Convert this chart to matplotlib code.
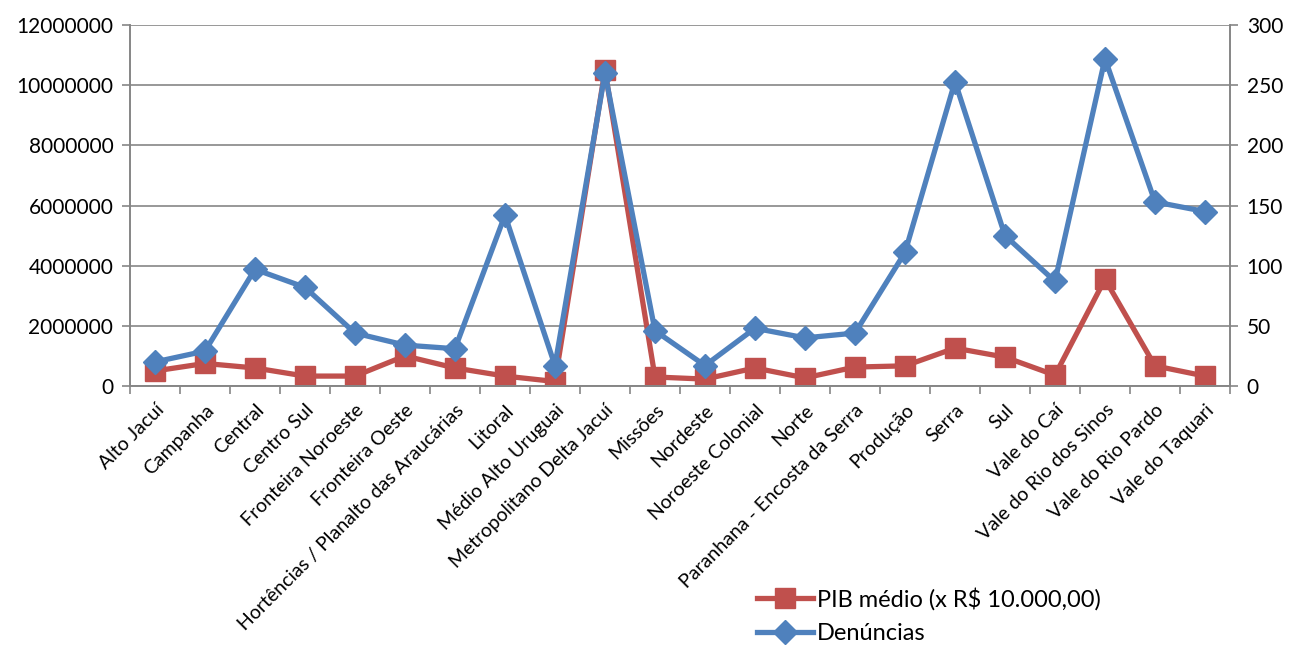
import matplotlib.pyplot as plt
from matplotlib.ticker import FixedLocator

plt.rcParams['font.family'] = ['Lato', 'DejaVu Sans']

regioes = ['Alto Jacuí', 'Campanha', 'Central', 'Centro Sul', 'Fronteira Noroeste',
           'Fronteira Oeste', 'Hortências / Planalto das Araucárias', 'Litoral',
           'Médio Alto Uruguai', 'Metropolitano Delta Jacuí', 'Missões', 'Nordeste',
           'Noroeste Colonial', 'Norte', 'Paranhana - Encosta da Serra', 'Produção',
           'Serra', 'Sul', 'Vale do Caí', 'Vale do Rio dos Sinos', 'Vale do Rio Pardo',
           'Vale do Taquari']

pib_medio = [500000, 750000, 600000, 330000, 330000, 1000000, 600000, 330000,
             150000, 10500000, 300000, 230000, 600000, 270000, 630000, 670000,
             1260000, 960000, 360000, 3550000, 670000, 330000]

denuncias = [20, 29, 97, 82, 44, 34, 31, 142, 17, 260, 46, 17, 48, 40, 44, 111,
             253, 125, 87, 272, 153, 145]

vermelho = '#C0504D'
azul = '#4F81BD'
cinza = '#868686'

fig = plt.figure(figsize=(13.02, 6.48), dpi=100)
ax = fig.add_axes([0.0998, 0.4043, 0.8449, 0.5571])
ax2 = ax.twinx()

x = list(range(len(regioes)))
l1, = ax.plot(x, pib_medio, color=vermelho, lw=3.8, marker='s', ms=14,
              label='PIB médio (x R$ 10.000,00)')
l2, = ax2.plot(x, denuncias, color=azul, lw=3.8, marker='D', ms=12,
               label='Denúncias')

ax.set_xlim(-0.5, len(regioes) - 0.5)
ax.set_ylim(0, 12000000)
ax2.set_ylim(0, 300)
ax.set_yticks(range(0, 12000001, 2000000))
ax.set_yticklabels([str(v) for v in range(0, 12000001, 2000000)])
ax2.set_yticks(range(0, 301, 50))

ax.yaxis.grid(True, color=cinza, lw=1.2)
ax.set_axisbelow(True)

ax.set_xticks(x)
ax.set_xticklabels(regioes, rotation=45, ha='right', rotation_mode='anchor', fontsize=14)
ax.xaxis.set_minor_locator(FixedLocator([i - 0.5 for i in range(len(regioes) + 1)]))
ax.tick_params(axis='x', which='major', length=0, pad=11)
ax.tick_params(axis='x', which='minor', length=6, color=cinza, width=1.2)
ax.tick_params(axis='y', length=6, color=cinza, width=1.2, labelsize=15, pad=6)
ax2.tick_params(axis='y', length=6, color=cinza, width=1.2, labelsize=15, pad=6)

for a in (ax, ax2):
    a.spines['top'].set_visible(False)
    for s in ('left', 'right', 'bottom'):
        a.spines[s].set_color(cinza)
        a.spines[s].set_linewidth(1.2)

fig.legend(handles=[l1, l2], loc='upper left', bbox_to_anchor=(0.574, 0.108),
           frameon=False, fontsize=17, handlelength=2.4, handletextpad=0.15,
           labelspacing=0.55, borderaxespad=0)

fig.savefig('out.png', dpi=100)
